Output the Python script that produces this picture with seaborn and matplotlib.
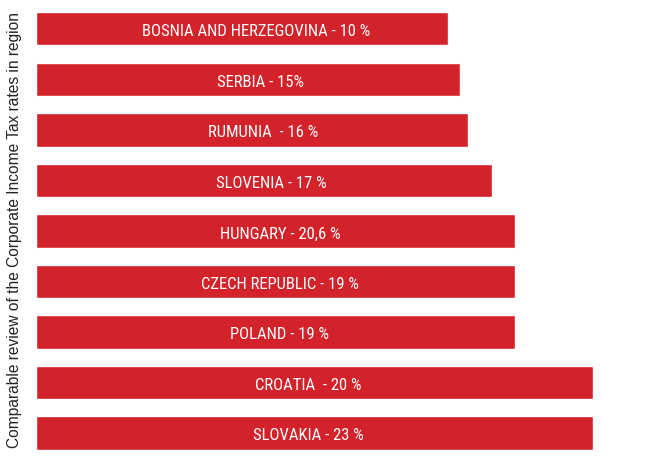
import matplotlib
matplotlib.use("Agg")
import matplotlib.pyplot as plt
import seaborn as sns
import pandas as pd

countries = ["BOSNIA AND HERZEGOVINA", "SERBIA", "RUMUNIA", "SLOVENIA", "HUNGARY",
             "CZECH REPUBLIC", "POLAND", "CROATIA", "SLOVAKIA"]
bar_labels = ["BOSNIA AND HERZEGOVINA - 10 %", "SERBIA - 15%", "RUMUNIA  - 16 %",
              "SLOVENIA - 17 %", "HUNGARY - 20,6 %", "CZECH REPUBLIC - 19 %",
              "POLAND - 19 %", "CROATIA  - 20 %", "SLOVAKIA - 23 %"]
# bar lengths as drawn in the reference (arbitrary units)
bar_lengths = [412, 424, 432, 456, 479, 479, 479, 557, 557]
y_title = "Comparable review of the Corporate Income Tax rates in region"

df = pd.DataFrame({"country": countries, "length": bar_lengths, "label": bar_labels})

sns.set_theme(style="white")
plt.rcParams["font.family"] = ["Liberation Sans", "DejaVu Sans"]

fig = plt.figure(figsize=(6.54, 4.67), dpi=100)
ax = fig.add_axes([36 / 654, 8.7 / 467, 618 / 654, 454.8 / 467])
sns.barplot(data=df, y="country", x="length", orient="h", color="#D4222A",
            saturation=1, width=0.66, ax=ax)
ax.set_xlim(0, 618)
ax.set_ylim(8.5, -0.5)
for i, (lab, ln) in enumerate(zip(bar_labels, bar_lengths)):
    ax.text(72 + 0.359 * ln, i + 0.147, lab, ha="center", va="baseline",
            color="white", fontsize=12, family=["Roboto Condensed", "DejaVu Sans"])
ax.set_xticks([])
ax.set_yticks([])
ax.set_xlabel("")
ax.set_ylabel("")
for s in ax.spines.values():
    s.set_visible(False)
fig.text(15 / 654, 0.507, y_title, rotation=90, ha="center", va="center",
         fontsize=11.2, color="#222222")
fig.savefig("out.png", dpi=100)
